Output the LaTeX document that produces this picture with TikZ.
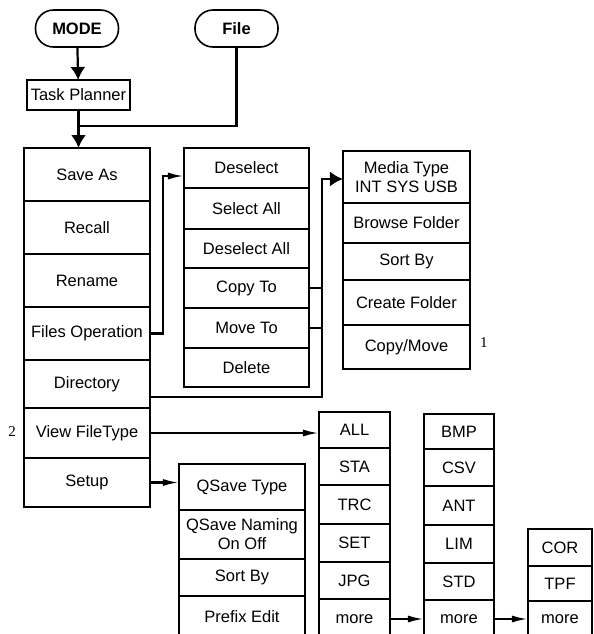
\documentclass[tikz,border=0pt]{standalone}
\usepackage{fontspec}
\setmainfont{Liberation Sans}
\newfontfamily\numfont{Liberation Serif}
\usetikzlibrary{positioning, arrows.meta}

\begin{document}
\begin{tikzpicture}[x=0.5pt, y=-0.5pt,
    node distance=0pt,
    cell/.style={rectangle, draw, line width=1.1pt, align=center, inner sep=1pt, outer sep=0pt, font=\fontsize{8.25}{9.5}\selectfont},
    pill/.style={cell, line width=0.8pt, rounded corners=9pt, minimum width=41.5pt, minimum height=18.5pt, font=\bfseries\fontsize{8.25}{9.5}\selectfont},
    lcol/.style={cell, minimum width=63pt},
    mcol/.style={cell, minimum width=62.5pt},
    rcol/.style={cell, minimum width=63.5pt},
    qcol/.style={cell, minimum width=63pt},
    tcol/.style={cell, minimum width=35.5pt},
    bcol/.style={cell, minimum width=35pt},
    ccol/.style={cell, minimum width=32pt},
    line/.style={line width=1.1pt},
    bigarrow/.style={line, -{Latex[length=6.5pt, width=7.5pt]}},
    slimarrow/.style={line, -{Latex[length=8pt, width=3.5pt]}}
]
\useasboundingbox (0,0) rectangle (594,634);
\clip (0,0) rectangle (594,634);

% top keys
\node[pill] (mode) at (77,28.5) {MODE};
\node[pill] (file) at (236.5,28.5) {File};
\node[cell, minimum width=51.5pt, minimum height=15pt] (task) at (78.5,95) {Task Planner};

% main menu
\node[lcol, minimum height=26.5pt, anchor=north] (saveas) at (87,148) {Save As};
\node[lcol, minimum height=26.5pt, below=of saveas] (recall) {Recall};
\node[lcol, minimum height=26.5pt, below=of recall] (rename) {Rename};
\node[lcol, minimum height=26.5pt, below=of rename] (fileop) {Files Operation};
\node[lcol, minimum height=24pt, below=of fileop] (dir) {Directory};
\node[lcol, minimum height=25pt, below=of dir] (view) {View FileType};
\node[lcol, minimum height=24.5pt, below=of view] (setup) {Setup};

% files operation
\node[mcol, minimum height=20pt, anchor=north] (deselect) at (246.5,148) {Deselect};
\node[mcol, minimum height=20.5pt, below=of deselect] (selall) {Select All};
\node[mcol, minimum height=19.5pt, below=of selall] (deselall) {Deselect All};
\node[mcol, minimum height=20pt, below=of deselall] (copyto) {Copy To};
\node[mcol, minimum height=20pt, below=of copyto] (moveto) {Move To};
\node[mcol, minimum height=19.5pt, below=of moveto] (delete) {Delete};

% directory
\node[rcol, minimum height=26pt, anchor=north] (media) at (406.5,151) {Media Type\\INT SYS USB};
\node[rcol, minimum height=20pt, below=of media] (browse) {Browse Folder};
\node[rcol, minimum height=18.5pt, below=of browse] (sortdir) {Sort By};
\node[rcol, minimum height=22.5pt, below=of sortdir] (create) {Create Folder};
\node[rcol, minimum height=22pt, below=of create] (copymove) {Copy/Move};

% setup
\node[qcol, minimum height=23pt, anchor=north] (qtype) at (242,464) {QSave Type};
\node[qcol, minimum height=24.5pt, below=of qtype] (qname) {QSave Naming\\On Off};
\node[qcol, minimum height=18.5pt, below=of qname] (sortset) {Sort By};
\node[qcol, minimum height=21pt, below=of sortset] (prefix) {Prefix Edit};

% file types
\node[tcol, minimum height=18pt, anchor=north] (all) at (354.5,412) {ALL};
\node[tcol, minimum height=18.5pt, below=of all] (sta) {STA};
\node[tcol, minimum height=19.5pt, below=of sta] (trc) {TRC};
\node[tcol, minimum height=19pt, below=of trc] (set) {SET};
\node[tcol, minimum height=18.5pt, below=of set] (jpg) {JPG};
\node[tcol, minimum height=20pt, below=of jpg] (moreA) {more};

\node[bcol, minimum height=17.5pt, anchor=north] (bmp) at (459,414) {BMP};
\node[bcol, minimum height=18.5pt, below=of bmp] (csv) {CSV};
\node[bcol, minimum height=19.5pt, below=of csv] (ant) {ANT};
\node[bcol, minimum height=19pt, below=of ant] (lim) {LIM};
\node[bcol, minimum height=18.5pt, below=of lim] (std) {STD};
\node[bcol, minimum height=19pt, below=of std] (moreB) {more};

\node[ccol, minimum height=18.5pt, anchor=north] (cor) at (560,529) {COR};
\node[ccol, minimum height=17.5pt, below=of cor] (tpf) {TPF};
\node[ccol, minimum height=18pt, below=of tpf] (moreC) {more};

% notes
\node[font=\numfont\fontsize{7.5}{9}\selectfont] (noteone) at (484,343) {1};
\node[font=\numfont\fontsize{7.5}{9}\selectfont] (notetwo) at (12,432) {2};

% connectors
\coordinate (merge) at (78.5,126);
\coordinate (bus) at (322,397);
\draw[bigarrow] (mode) -- (task);
\draw[line] (file) |- (merge);
\draw[bigarrow] (task) -- (task |- saveas.north);
\draw[slimarrow] (fileop.east) -- ++(13,0) |- ([yshift=-4pt]deselect.west);
\draw[line] (copyto) -- (copyto -| bus);
\draw[line] (moveto) -- (moveto -| bus);
\draw[bigarrow] (dir.east |- bus) -- (bus) |- ([yshift=-1pt]media.west);
\draw[slimarrow] (view) -- (view -| all.west);
\draw[slimarrow] (setup) -- (setup -| qtype.west);
\draw[slimarrow] (moreA) -- (moreB);
\draw[slimarrow] (moreB) -- (moreC);

\end{tikzpicture}
\end{document}
